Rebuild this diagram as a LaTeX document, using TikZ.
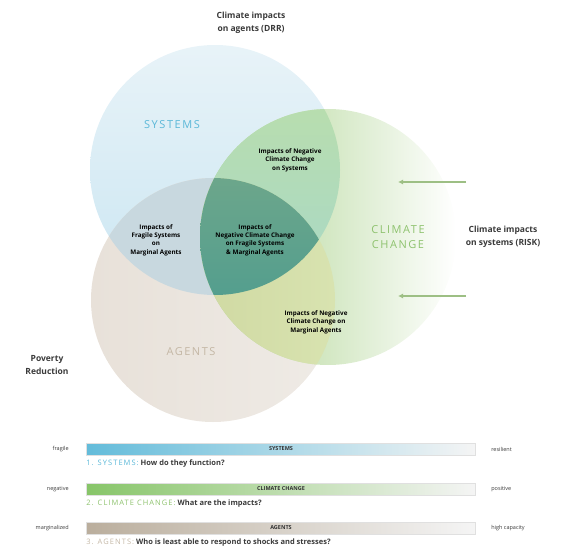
\documentclass[tikz,border=0pt]{standalone}
\usepackage{fontspec}
\setmainfont{Open Sans}
\newfontfamily\capsfont[LetterSpace=14]{Open Sans}
\usetikzlibrary{arrows.meta, positioning}

\definecolor{sysblue}{HTML}{5BB8D8}
\definecolor{ccgreen}{HTML}{8EC26E}
\definecolor{agbeige}{HTML}{C4B7A5}
\definecolor{arrowgreen}{HTML}{9DBF84}
\definecolor{inktext}{HTML}{3A3A3A}
% circle fills
\definecolor{systop}{HTML}{E8F3F8}
\definecolor{sysbot}{HTML}{CBE6F2}
\definecolor{agleft}{HTML}{E8E1D9}
\definecolor{agright}{HTML}{EFEBE6}
\definecolor{sysag}{HTML}{C8D8DF}
\definecolor{ccleft}{HTML}{A9D18A}
\definecolor{ccmid}{HTML}{DCE9BC}
\definecolor{ccsystop}{HTML}{BDDFA6}
\definecolor{ccsysbot}{HTML}{A8D8C8}
\definecolor{ccagleft}{HTML}{C9D197}
\definecolor{ccagright}{HTML}{D8E3B0}
\definecolor{alltop}{HTML}{6CA68B}
\definecolor{allbot}{HTML}{3A9691}

\begin{document}
\begin{tikzpicture}[x=1pt, y=-1pt,
    lbl/.style={font=\fontsize{6.3}{8.4}\selectfont\bfseries, align=center, text=black},
    note/.style={font=\fontsize{8.5}{13}\selectfont\bfseries, align=center, text=inktext},
    title/.style={font=\capsfont\fontsize{11}{15}\selectfont, align=center},
    bar/.style={draw=black!12, line width=0.6pt, minimum width=389pt, minimum height=12pt,
        inner sep=0pt, font=\fontsize{5.5}{6}\selectfont\bfseries, text=black!80},
    side/.style={font=\fontsize{5.5}{6}\selectfont, text=inktext},
    question/.style={font=\fontsize{7.5}{9}\selectfont\bfseries, text=inktext, inner sep=0pt},
    arrow/.style={-{Latex[length=5pt, width=5pt]}, arrowgreen, line width=1.4pt}
]
\useasboundingbox (0,0) rectangle (575,548);

\coordinate (sysc) at (215,170);
\coordinate (ccc) at (328,237);
\coordinate (agc) at (213,300);

% circles
\shade[top color=systop, bottom color=sysbot] (sysc) circle[radius=125pt];
\shade[left color=agleft, right color=agright] (agc) circle[radius=122pt];
\begin{scope}
  \clip (sysc) circle[radius=125pt];
  \fill[sysag] (agc) circle[radius=122pt];
\end{scope}
\shade[left color=ccleft, middle color=ccmid, right color=white] (ccc) circle[radius=128pt];
\begin{scope}
  \clip (ccc) circle[radius=128pt];
  \shade[top color=ccsystop, bottom color=ccsysbot] (sysc) circle[radius=125pt];
  \shade[left color=ccagleft, right color=ccagright] (agc) circle[radius=122pt];
  \clip (sysc) circle[radius=125pt];
  \shade[top color=alltop, bottom color=allbot] (agc) circle[radius=122pt];
\end{scope}

% labels on the circles
\node[note] (drr) at (251,23) {Climate impacts\\on agents (DRR)};
\node[title, text=sysblue] (sys) at (172,125) {SYSTEMS};
\node[title, text=ccgreen] (cc) at (398,237) {CLIMATE\\CHANGE};
\node[title, text=agbeige] (ag) at (191,352) {AGENTS};
\node[note] (risk) at (503,237) {Climate impacts\\on systems (RISK)};
\node[note] (pov) at (47,365) {Poverty\\Reduction};

\node[lbl] (ccsys) at (290,160) {Impacts of Negative\\Climate Change\\on Systems};
\node[lbl] (sysag) at (156,240) {Impacts of\\Fragile Systems\\on\\Marginal Agents};
\node[lbl] (all) at (255,240) {Impacts of\\Negative Climate Change\\on Fragile Systems\\\& Marginal Agents};
\node[lbl] (ccag) at (316,322) {Impacts of Negative\\Climate Change on\\Marginal Agents};

% arrows into the circle
\coordinate (inA) at (466,182);
\coordinate (outA) at (398,182);
\coordinate (inB) at (466,296);
\coordinate (outB) at (398,296);
\draw[arrow] (inA) -- (outA);
\draw[arrow] (inB) -- (outB);

% scales
\node[bar, left color=sysblue!95, middle color=sysblue!20, right color=black!4] (sysbar) at (281,449) {SYSTEMS};
\node[bar, left color=ccgreen!95!green, middle color=ccgreen!25, right color=black!4] (ccbar) at (281,489) {CLIMATE CHANGE};
\node[bar, left color=agbeige!95!black, middle color=agbeige!35, right color=black!4] (agbar) at (281,528) {AGENTS};

\node[side, left=14pt of sysbar] (fragile) {fragile};
\node[side, right=12pt of sysbar] (resilient) {resilient};
\node[side, left=14pt of ccbar] (negative) {negative};
\node[side, right=12pt of ccbar] (positive) {positive};
\node[side, left=14pt of agbar] (marginal) {marginalized};
\node[side, right=12pt of agbar] (highcap) {high capacity};

\node[question, below=4pt of sysbar.south west, anchor=north west] (q1)
  {{\capsfont\color{sysblue}\mdseries 1. SYSTEMS:} How do they function?};
\node[question, below=4pt of ccbar.south west, anchor=north west] (q2)
  {{\capsfont\color{ccgreen}\mdseries 2. CLIMATE CHANGE:} What are the impacts?};
\node[question, below=4pt of agbar.south west, anchor=north west] (q3)
  {{\capsfont\color{agbeige}\mdseries 3. AGENTS:} Who is least able to respond to shocks and stresses?};
\end{tikzpicture}
\end{document}
